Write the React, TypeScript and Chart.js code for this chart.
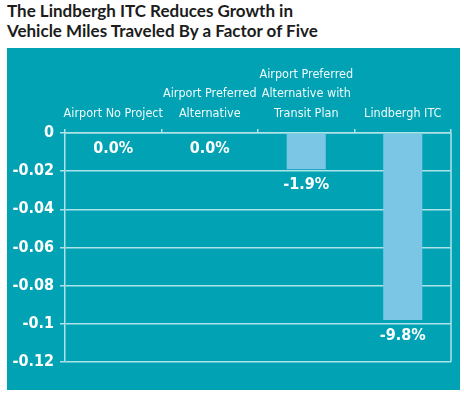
import React, { useEffect, useRef } from "react";
import { Chart, registerables } from "chart.js";

Chart.register(...registerables);

const titleLines = [
  "The Lindbergh ITC Reduces Growth in",
  "Vehicle Miles Traveled By a Factor of Five",
];
const categories: string[][] = [
  ["Airport No Project"],
  ["Airport Preferred", "Alternative"],
  ["Airport Preferred", "Alternative with", "Transit Plan"],
  ["Lindbergh ITC"],
];
const vmtGrowthChange = [0, 0, -0.019, -0.098];
const yMin = -0.12;
const yMax = 0;
const yStep = 0.02;

const TEAL = "#00a2b3";
const BAR = "#7cc6e5";
const GRID = "#aee3ea";
const TEXT = "#ffffff";
const FONT = "'DejaVu Sans Condensed', 'DejaVu Sans', sans-serif";

const extrasPlugin = {
  id: "extras",
  afterDatasetsDraw(chart: any) {
    const { ctx, chartArea } = chart;
    ctx.save();
    ctx.strokeStyle = GRID;
    ctx.lineWidth = 1.5;
    ctx.beginPath();
    ctx.moveTo(chartArea.right, chartArea.top);
    ctx.lineTo(chartArea.right, chartArea.bottom);
    ctx.stroke();

    const meta = chart.getDatasetMeta(0);
    ctx.fillStyle = TEXT;
    ctx.font = `bold 16px ${FONT}`;
    ctx.textAlign = "center";
    ctx.textBaseline = "middle";
    meta.data.forEach((bar: any, i: number) => {
      const v = vmtGrowthChange[i];
      const label = (v * 100).toFixed(1) + "%";
      ctx.fillText(label, bar.x, bar.y + 16);
    });
    ctx.restore();
  },
};

export default function App() {
  const canvasRef = useRef<HTMLCanvasElement | null>(null);

  useEffect(() => {
    if (!canvasRef.current) return;
    const chart = new Chart(canvasRef.current, {
      type: "bar",
      data: {
        labels: categories,
        datasets: [
          {
            data: vmtGrowthChange,
            backgroundColor: BAR,
            borderWidth: 0,
            barPercentage: 0.405,
            categoryPercentage: 1,
          },
        ],
      },
      options: {
        responsive: false,
        animation: false,
        layout: { padding: { left: 0, right: 9, top: 0, bottom: 28 } },
        plugins: {
          legend: { display: false },
          tooltip: { enabled: false },
        },
        scales: {
          x: {
            position: "top",
            afterFit: (scale: any) => {
              scale.height = 85;
            },
            grid: {
              offset: true,
              drawOnChartArea: false,
              drawTicks: true,
              tickLength: 4,
              color: GRID,
              lineWidth: 1.5,
            },
            border: { display: true, color: GRID, width: 1.5 },
            ticks: {
              color: "#eefafc",
              font: { family: FONT, size: 12.5, lineHeight: 1.55 },
              padding: 6,
              maxRotation: 0,
              autoSkip: false,
            },
          },
          y: {
            min: yMin,
            max: yMax,
            afterFit: (scale: any) => {
              scale.width = 58;
            },
            grid: {
              color: GRID,
              lineWidth: 1.5,
              tickLength: 5,
            },
            border: { display: true, color: GRID, width: 1.5 },
            ticks: {
              stepSize: yStep,
              color: TEXT,
              font: { family: FONT, size: 16, weight: "bold" },
              padding: 6,
              callback: (value: any) => String(Number(Number(value).toFixed(2))),
            },
          },
        },
      },
      plugins: [extrasPlugin],
    } as any);
    return () => chart.destroy();
  }, []);

  return (
    <div style={{ position: "absolute", left: 0, top: 0, width: 464, height: 394, background: "#fff" }}>
      <div
        style={{
          position: "absolute",
          left: 7,
          top: 1,
          fontFamily: "Lato, 'Open Sans', sans-serif",
          fontWeight: 700,
          fontSize: 17,
          lineHeight: "20px",
          color: "#1c1c1c",
          whiteSpace: "nowrap",
        }}
      >
        {titleLines.map((t, i) => (
          <div key={i}>{t}</div>
        ))}
      </div>
      <div
        style={{
          position: "absolute",
          left: 7,
          top: 48,
          width: 453,
          height: 342,
          background: TEAL,
        }}
      >
        <canvas ref={canvasRef} width={453} height={342} style={{ display: "block" }} />
      </div>
    </div>
  );
}
